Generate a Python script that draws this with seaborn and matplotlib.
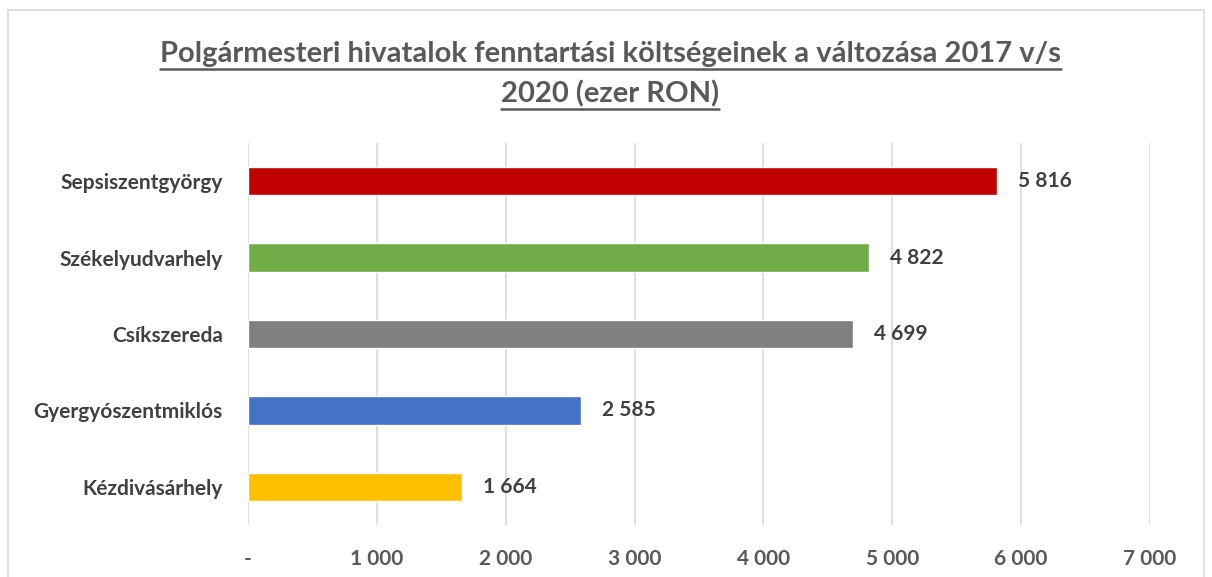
import matplotlib
matplotlib.use('Agg')
import matplotlib.pyplot as plt
from matplotlib.lines import Line2D
from matplotlib.patches import Rectangle
import seaborn as sns
import pandas as pd

# adatok
varosok = ['Sepsiszentgyörgy', 'Székelyudvarhely', 'Csíkszereda',
           'Gyergyószentmiklós', 'Kézdivásárhely']
koltsegek = [5816, 4822, 4699, 2585, 1664]
szinek = ['#C00000', '#70AD47', '#7F7F7F', '#4472C4', '#FFC000']
x_ticks = [0, 1000, 2000, 3000, 4000, 5000, 6000, 7000]
x_tick_labels = ['-', '1 000', '2 000', '3 000', '4 000', '5 000', '6 000', '7 000']
cim_sorok = ['Polgármesteri hivatalok fenntartási költségeinek a változása 2017 v/s',
             '2020 (ezer RON)']

sns.set_style('white')
plt.rcParams['font.family'] = ['Lato', 'DejaVu Sans']

df = pd.DataFrame({'varos': varosok, 'ertek': koltsegek})

fig = plt.figure(figsize=(12.12, 5.77), dpi=100)
W, H = 1212, 577
ax = fig.add_axes([248 / W, 1 - 525 / H, (1150 - 248) / W, (525 - 143) / H])

sns.barplot(data=df, x='ertek', y='varos', hue='varos', palette=szinek,
            legend=False, width=0.37, saturation=1, ax=ax)

ax.set_xlim(0, 7000)
ax.set_xticks(x_ticks)
ax.set_xticklabels(x_tick_labels, fontsize=15, fontweight='bold', color='#595959')
ax.tick_params(axis='x', length=0, pad=17)
ax.tick_params(axis='y', length=0, pad=18)
for lbl in ax.get_yticklabels():
    lbl.set_fontsize(15)
    lbl.set_fontweight('bold')
    lbl.set_color('#404040')
ax.set_xlabel('')
ax.set_ylabel('')
ax.grid(axis='x', color='#D9D9D9', linewidth=1.2)
ax.set_axisbelow(True)
for s in ax.spines.values():
    s.set_visible(False)

for i, v in enumerate(koltsegek):
    ax.annotate(f'{v:,}'.replace(',', ' '), (v, i), xytext=(15, 0),
                textcoords='offset points', va='center', ha='left',
                fontsize=15, fontweight='bold', color='#404040')

# keret
fig.patches.append(Rectangle((8 / W, -0.01), (1204 - 8) / W, 1 - 10 / H + 0.01,
                             transform=fig.transFigure, fill=False,
                             edgecolor='#D9D9D9', linewidth=1.2))

# cím, aláhúzva
cim_y = [1 - 54 / H, 1 - 94 / H]
cimek = []
for sor, y in zip(cim_sorok, cim_y):
    cimek.append(fig.text(0.5035, y, sor, ha='center', va='center', fontsize=21,
                          fontweight='bold', color='#595959'))

fig.canvas.draw()
renderer = fig.canvas.get_renderer()
for t in cimek:
    bb = t.get_window_extent(renderer).transformed(fig.transFigure.inverted())
    fig.add_artist(Line2D([bb.x0, bb.x1], [bb.y0 - 0.003, bb.y0 - 0.003],
                          transform=fig.transFigure, color='#595959', linewidth=1.8))

fig.savefig('out.png', dpi=100)
